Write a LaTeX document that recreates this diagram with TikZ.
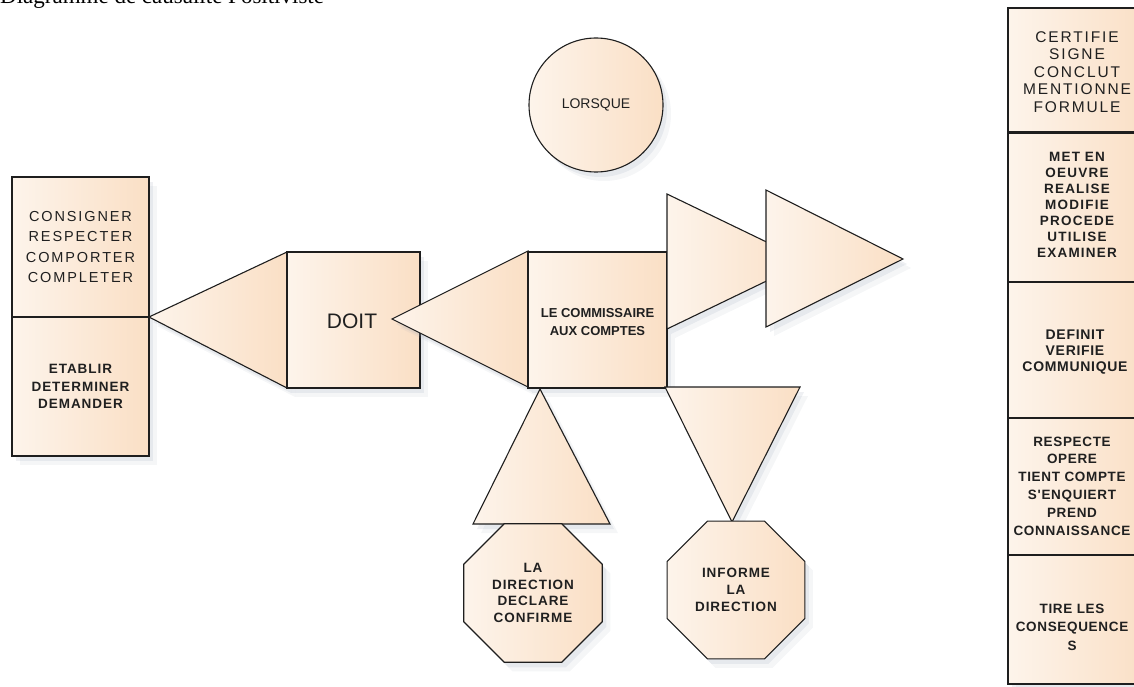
\documentclass[tikz,border=0pt]{standalone}
\usepackage{fontspec}
\setmainfont{Liberation Sans}
\newfontfamily\titlefont{Liberation Serif}
\newfontfamily\colAfont[LetterSpace=12]{Liberation Sans}
\newfontfamily\boxAfont[LetterSpace=13]{Liberation Sans}
\newfontfamily\boldsp[LetterSpace=7]{Liberation Sans}
\newfontfamily\colBfont[LetterSpace=9]{Liberation Sans}
\newfontfamily\colCfont[LetterSpace=5]{Liberation Sans}
\usetikzlibrary{shapes.geometric}
\definecolor{peachL}{HTML}{FDF4EB}
\definecolor{peachR}{HTML}{FADFC5}
\definecolor{edgec}{HTML}{1E1E1E}
\definecolor{txt}{HTML}{202020}
\definecolor{shadowc}{HTML}{9AA4B5}
\tikzset{
  shade1/.style={preaction={draw=none, fill=shadowc, fill opacity=0.16, transform canvas={xshift=4pt, yshift=-5pt}},
                 preaction={draw=none, fill=shadowc, fill opacity=0.10, transform canvas={xshift=8pt, yshift=-9pt}}},
  peach/.style={shade1, left color=peachL, right color=peachR, draw=edgec, line width=1.1pt, line join=miter},
  sqbox/.style={peach, rectangle, inner sep=0pt, align=center, text=txt},
  colbox/.style={sqbox, line width=1.6pt, minimum width=140pt},
  octo/.style={peach, regular polygon, regular polygon sides=8, minimum size=150pt, inner sep=0pt, align=center, text=txt},
}
\begin{document}
\begin{tikzpicture}[x=1pt, y=-1pt]
\useasboundingbox (0,0) rectangle (1134,687);
\clip (0,0) rectangle (1134,687);

% title (cut off at the top, as in the reference)
\node[anchor=base west, inner sep=0pt, font=\titlefont\fontsize{23}{27}\selectfont] (title) at (0,4) {Diagramme de causalité Positiviste};

% left boxes
\node[sqbox, minimum width=137pt, minimum height=140pt, font=\boxAfont\fontsize{14.5}{20.5}\selectfont] (b1) at (80.5,247) {CONSIGNER\\RESPECTER\\COMPORTER\\COMPLETER};
\node[sqbox, minimum width=137pt, minimum height=139pt, font=\boldsp\bfseries\fontsize{13.5}{17.5}\selectfont] (b2) at (80.5,386.5) {ETABLIR\\DETERMINER\\DEMANDER};

% triangle 1 (points left)
\path[peach] (149,317) coordinate (t1) -- (287,252) -- (287,388) -- cycle;

% DOIT
\node[sqbox, minimum width=133pt, minimum height=136pt] (doit) at (353.5,320) {};
\node[inner sep=0pt, font=\fontsize{21}{24}\selectfont, text=txt] (doitt) at (352,321) {DOIT};

% triangle 2 (points left, over DOIT)
\path[peach] (392,319) coordinate (t2) -- (528,251) -- (528,387) -- cycle;

% commissaire
\node[sqbox, minimum width=139pt, minimum height=136pt] (cac) at (597.5,320) {};
\node[inner sep=0pt, align=center, text=txt, font=\bfseries\fontsize{13}{18}\selectfont] (cact) at (597.5,322) {LE COMMISSAIRE\\AUX COMPTES};

% triangles right
\path[peach] (667,194) -- (807,261.5) coordinate (t3) -- (667,329) -- cycle;
\path[peach] (766,190) -- (903,259) coordinate (t4) -- (766,327) -- cycle;

% triangles below
\path[peach] (540,389) coordinate (t5) -- (610,524) -- (473,524) -- cycle;
\path[peach] (665,387) -- (800,387) -- (732,522) coordinate (t6) -- cycle;

% octagons
\node[octo, font=\boldsp\bfseries\fontsize{13.5}{16.8}\selectfont] (o1) at (533,593) {LA\\DIRECTION\\DECLARE\\CONFIRME};
\node[octo, minimum size=149pt, font=\boldsp\bfseries\fontsize{13.5}{16.8}\selectfont] (o2) at (736,590) {INFORME\\LA\\DIRECTION};

% circle
\node[peach, circle, minimum size=134pt, inner sep=0pt, font=\fontsize{14}{16}\selectfont, text=txt] (lors) at (596,105) {LORSQUE};

% right column
\node[colbox, minimum height=124pt] (r1) at (1078,70) {};
\node[inner sep=0pt, align=center, text=txt, font=\colAfont\fontsize{15.5}{17.5}\selectfont] (r1t) at (1077,72) {CERTIFIE\\SIGNE\\CONCLUT\\MENTIONNE\\FORMULE};
\node[colbox, minimum height=149pt] (r2) at (1078,207.5) {};
\node[inner sep=0pt, align=center, text=txt, font=\colBfont\bfseries\fontsize{13.5}{16}\selectfont] (r2t) at (1077,205) {MET EN\\OEUVRE\\REALISE\\MODIFIE\\PROCEDE\\UTILISE\\EXAMINER};
\node[colbox, minimum height=136pt] (r3) at (1078,350) {};
\node[inner sep=0pt, align=center, text=txt, font=\colCfont\bfseries\fontsize{14}{16}\selectfont] (r3t) at (1075,352) {DEFINIT\\VERIFIE\\COMMUNIQUE};
\node[colbox, minimum height=137pt] (r4) at (1078,486.5) {};
\node[inner sep=0pt, align=center, text=txt, font=\colCfont\bfseries\fontsize{13.5}{17.8}\selectfont] (r4t) at (1072,486) {RESPECTE\\OPERE\\TIENT COMPTE\\S'ENQUIERT\\PREND\\CONNAISSANCE};
\node[colbox, minimum height=129pt] (r5) at (1078,619.5) {};
\node[inner sep=0pt, align=center, text=txt, font=\colCfont\bfseries\fontsize{13.5}{18.5}\selectfont] (r5t) at (1072,627) {TIRE LES\\CONSEQUENCE\\S};
\end{tikzpicture}
\end{document}
